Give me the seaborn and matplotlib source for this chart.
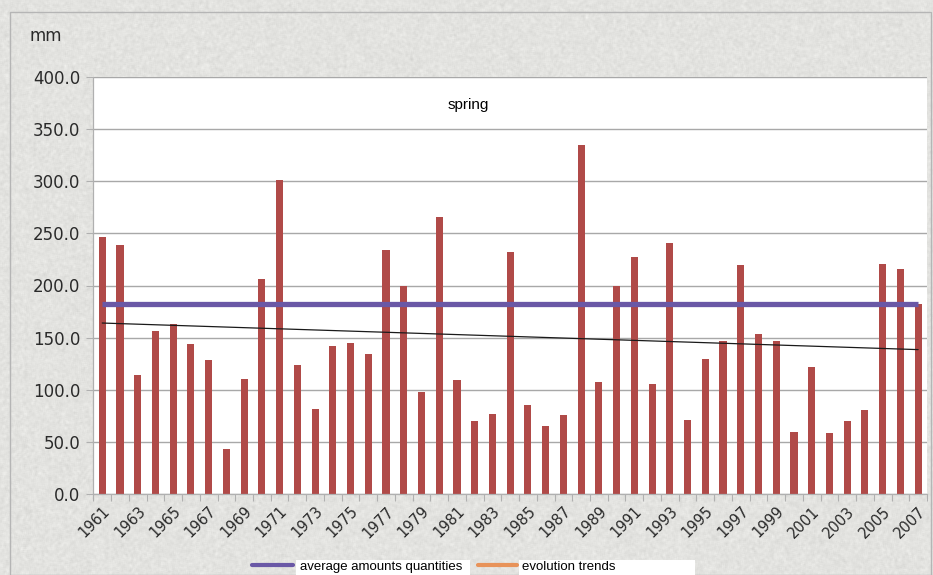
import numpy as np
import pandas as pd
import matplotlib
matplotlib.use("Agg")
import matplotlib.pyplot as plt
import seaborn as sns
from matplotlib.lines import Line2D
from matplotlib.patches import Rectangle

# Spring precipitation totals (mm), 1961-2007
years = list(range(1961, 2008))
spring_mm = [
    246.8, 239.0, 113.8, 156.4, 163.5, 144.2, 128.2, 43.3, 110.6, 206.4,
    301.3, 123.4, 81.7, 141.7, 144.9, 134.0, 234.0, 199.4, 97.8, 266.0,
    109.0, 70.5, 76.9, 232.0, 84.9, 65.7, 75.3, 335.0, 107.4, 200.0,
    227.6, 105.8, 241.0, 71.2, 129.8, 146.8, 219.6, 153.8, 146.8, 59.3,
    121.5, 58.3, 70.5, 80.1, 220.8, 215.4, 182.0,
]
average_mm = 182.0
trend_ends = [164.0, 138.5]   # linear trend at 1961 and 2007
y_ticks = [0, 50, 100, 150, 200, 250, 300, 350, 400]

bar_color = "#b04a48"
avg_color = "#6a58a6"
trend_legend_color = "#e8935a"
bg_color = "#e3e3e0"

sns.set_theme(style="white")
plt.rcParams["font.family"] = ["DejaVu Sans"]

W, H = 933, 575
fig = plt.figure(figsize=(W / 100, H / 100), dpi=100, facecolor=bg_color)

# stone-paper grain behind everything
rng = np.random.default_rng(7)
grain = rng.normal(0, 1, (H, W))
k = np.ones(3) / 3
grain = np.apply_along_axis(lambda r: np.convolve(r, k, mode="same"), 1, grain)
grain = np.apply_along_axis(lambda c: np.convolve(c, k, mode="same"), 0, grain)
base = np.array([0xe3, 0xe3, 0xe0]) / 255.0
tex = np.clip(base[None, None, :] + 0.035 * grain[:, :, None], 0, 1)
fig.figimage(tex, xo=0, yo=0, origin="upper", zorder=-10)

# plot area in pixel coordinates
left, right, top, bottom = 93, 927, 77, 494
ax = fig.add_axes([left / W, 1 - bottom / H, (right - left) / W, (bottom - top) / H])
ax.set_facecolor("white")

df = pd.DataFrame({"year": [str(y) for y in years], "mm": spring_mm})
sns.barplot(data=df, x="year", y="mm", color=bar_color, saturation=1,
            width=0.4, ax=ax, linewidth=0)

n = len(years)
xs = np.arange(n)
ax.plot(xs, [average_mm] * n, color=avg_color, lw=3.8, solid_capstyle="butt", zorder=4)
ax.plot([0, n - 1], trend_ends, color="#1a1a1a", lw=0.9, zorder=5)

ax.set_xlim(-0.52, n - 1 + 0.49)
ax.set_ylim(0, 400)
ax.set_yticks(y_ticks)
ax.set_yticklabels([f"{v:.1f}" for v in y_ticks], fontsize=12, color="#2a2a2a")
ax.yaxis.grid(True, color="#a8a8a8", lw=1.0)
ax.set_axisbelow(True)

# x labels every other year, tick marks between categories
ax.set_xticks(xs[::2])
ax.set_xticklabels([str(y) for y in years[::2]], rotation=45, ha="right",
                   rotation_mode="anchor", fontsize=10.5, color="#2a2a2a")
ax.set_xticks(np.arange(-0.5, n, 1), minor=True)
ax.tick_params(axis="x", which="major", length=0, pad=7)
ax.tick_params(axis="x", which="minor", length=5, width=0.8, color="#b0b0b0", direction="out", bottom=True)
ax.tick_params(axis="y", length=5, width=0.8, color="#b0b0b0", direction="out", left=True, pad=4)
ax.set_xlabel("")
ax.set_ylabel("")

for side in ["top", "right"]:
    ax.spines[side].set_visible(False)
ax.spines["left"].set_color("#b0b0b0")
ax.spines["bottom"].set_color("#b0b0b0")
ax.spines["left"].set_linewidth(0.9)
ax.spines["bottom"].set_linewidth(0.9)

ax.text(0.4496, 0.933, "spring", transform=ax.transAxes, ha="center", va="center",
        fontsize=11, family="Liberation Sans", color="black")

fig.text(46 / W, 1 - 36 / H, "mm", ha="center", va="center", fontsize=12, color="#2a2a2a")

# outer frame
fig.add_artist(Rectangle((10 / W, 0), (W - 12) / W, 1 - 12 / H,
                         transform=fig.transFigure, fill=False,
                         edgecolor="#b5b5b5", lw=1.0))


def px(x, y):
    return x / W, 1 - y / H


# legend below the year labels
fig.add_artist(Rectangle(px(296, 575), 174 / W, 15 / H, transform=fig.transFigure,
                         facecolor="white", edgecolor="none"))
fig.add_artist(Rectangle(px(519, 575), 176 / W, 15 / H, transform=fig.transFigure,
                         facecolor="white", edgecolor="none"))
x0, y0 = px(252, 565)
x1, _ = px(293, 565)
fig.add_artist(Line2D([x0, x1], [y0, y0], transform=fig.transFigure, color=avg_color, lw=3))
x0, _ = px(478, 565)
x1, _ = px(517, 565)
fig.add_artist(Line2D([x0, x1], [y0, y0], transform=fig.transFigure, color=trend_legend_color, lw=3))
tx, ty = px(300, 567)
fig.text(tx, ty, "average amounts quantities", ha="left", va="center",
         fontsize=9.5, family="Liberation Sans", color="black")
tx, ty = px(522, 567)
fig.text(tx, ty, "evolution trends", ha="left", va="center",
         fontsize=9.5, family="Liberation Sans", color="black")

fig.savefig("out.png", dpi=100)
